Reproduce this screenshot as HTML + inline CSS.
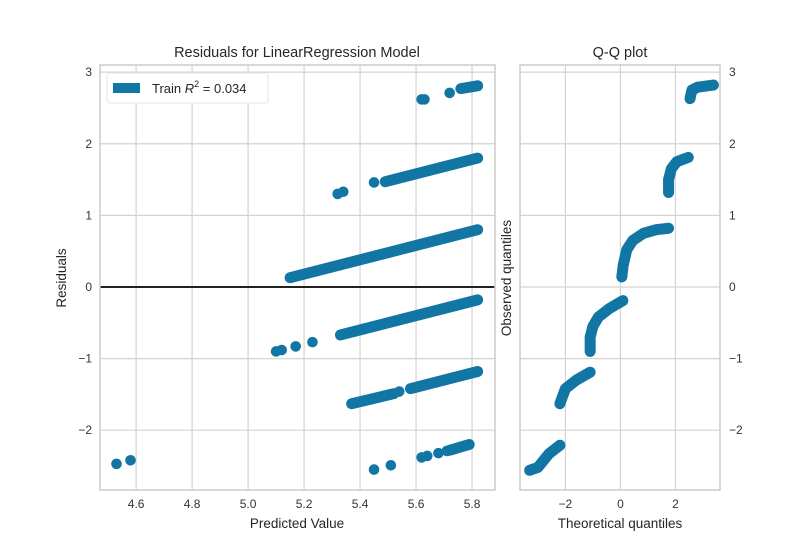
<!DOCTYPE html>
<html><head><meta charset="utf-8"><style>
body{margin:0;background:#fff;}
svg{display:block;font-family:"Liberation Sans",sans-serif;}
</style></head><body>
<svg id="chart" width="800" height="550"></svg>
<script>
// ---- main residual plot data ----
const xTicks = [4.6, 4.8, 5.0, 5.2, 5.4, 5.6, 5.8];
const xTickLabels = ["4.6", "4.8", "5.0", "5.2", "5.4", "5.6", "5.8"];
const yTicks = [-2, -1, 0, 1, 2, 3];
const yTickLabels = ["\u22122", "\u22121", "0", "1", "2", "3"];
// dense runs of points: [predStart, residStart, predEnd, residEnd]
const denseRuns = [
  [5.15, 0.13, 5.82, 0.80],
  [5.49, 1.47, 5.82, 1.80],
  [5.76, 2.77, 5.82, 2.81],
  [5.33, -0.67, 5.82, -0.18],
  [5.37, -1.63, 5.52, -1.49],
  [5.58, -1.42, 5.82, -1.18],
  [5.72, -2.28, 5.79, -2.20]
];
// isolated points
const isoPred  = [5.32, 5.34, 5.45, 5.62, 5.63, 5.72, 5.10, 5.12, 5.17, 5.23, 4.53, 4.58, 5.54, 5.45, 5.51, 5.62, 5.64, 5.68, 5.71];
const isoResid = [1.30, 1.33, 1.46, 2.62, 2.62, 2.71, -0.90, -0.88, -0.83, -0.77, -2.47, -2.42, -1.46, -2.55, -2.49, -2.38, -2.36, -2.32, -2.29];
// ---- Q-Q data (curve segments) ----
const qqTheo = [[-3.3, -3.0, -2.6, -2.2], [-2.2, -2.0, -1.6, -1.1], [-1.1, -1.1, -1.0, -0.8, -0.4, 0.09], [0.05, 0.1, 0.23, 0.45, 0.84, 1.3, 1.75], [1.75, 1.75, 1.85, 2.05, 2.47], [2.53, 2.6, 2.8, 3.38]];
const qqObs  = [[-2.56, -2.52, -2.33, -2.21], [-1.63, -1.42, -1.30, -1.19], [-0.90, -0.70, -0.55, -0.42, -0.30, -0.19], [0.14, 0.30, 0.52, 0.65, 0.75, 0.80, 0.82], [1.32, 1.50, 1.65, 1.75, 1.81], [2.63, 2.75, 2.79, 2.82]];
const qqXTicks = [-2, 0, 2];
const qqXTickLabels = ["\u22122", "0", "2"];

const NS = "http://www.w3.org/2000/svg";
const svg = document.getElementById("chart");
const C = "#1276a5";
function el(tag, attrs, parent, text) {
  const e = document.createElementNS(NS, tag);
  for (const k in attrs) e.setAttribute(k, attrs[k]);
  if (text !== undefined) e.textContent = text;
  (parent || svg).appendChild(e);
  return e;
}
const L = 100, R = 495, T = 65, B = 490;
const xMin = 4.471, xMax = 5.882, yMin = -2.835, yMax = 3.1;
const sx = v => L + (v - xMin) / (xMax - xMin) * (R - L);
const sy = v => B - (v - yMin) / (yMax - yMin) * (B - T);
const QL = 520, QR = 720, qxMin = -3.65, qxMax = 3.62;
const qx = v => QL + (v - qxMin) / (qxMax - qxMin) * (QR - QL);

xTicks.forEach((t, i) => {
  const g = el("line", {x1: sx(t), x2: sx(t), y1: T, y2: B, stroke: "#d3d3d3", "stroke-width": 1.2});
  
  
  const lab = el("text", {x: sx(t), y: B + 18, "text-anchor": "middle", "font-size": 12, fill: "#333"}, null, xTickLabels[i]);
  
  
});
yTicks.forEach((t, i) => {
  const g = el("line", {x1: L, x2: R, y1: sy(t), y2: sy(t), stroke: "#d3d3d3", "stroke-width": 1.2});
  
  
  const g2 = el("line", {x1: QL, x2: QR, y1: sy(t), y2: sy(t), stroke: "#d3d3d3", "stroke-width": 1.2});
  
  
  const lab = el("text", {x: L - 8, y: sy(t) + 4, "text-anchor": "end", "font-size": 12, fill: "#333"}, null, yTickLabels[i]);
  
  
  const lab2 = el("text", {x: QR + 9, y: sy(t) + 4, "text-anchor": "start", "font-size": 12, fill: "#333"}, null, yTickLabels[i]);
  
  
});
qqXTicks.forEach((t, i) => {
  const g = el("line", {x1: qx(t), x2: qx(t), y1: T, y2: B, stroke: "#d3d3d3", "stroke-width": 1.2});
  
  
  const lab = el("text", {x: qx(t), y: B + 18, "text-anchor": "middle", "font-size": 12, fill: "#333"}, null, qqXTickLabels[i]);
  
  
});

const zl = el("line", {x1: L, x2: R, y1: sy(0), y2: sy(0), stroke: "#222", "stroke-width": 2});



denseRuns.forEach(r => {
  const ln = el("line", {x1: sx(r[0]), y1: sy(r[1]), x2: sx(r[2]), y2: sy(r[3]), stroke: C, "stroke-width": 11, "stroke-linecap": "round"});
  
  
});
isoPred.forEach((p, i) => {
  const c = el("circle", {cx: sx(p), cy: sy(isoResid[i]), r: 5.3, fill: C});
  
  
});

qqTheo.forEach((seg, s) => {
  const pts = seg.map((t, i) => qx(t) + "," + sy(qqObs[s][i])).join(" ");
  const pl = el("polyline", {points: pts, fill: "none", stroke: C, "stroke-width": 11, "stroke-linecap": "round", "stroke-linejoin": "round"});
  
  
});

const f1 = el("rect", {x: L, y: T, width: R - L, height: B - T, fill: "none", stroke: "#cccccc", "stroke-width": 1.5});


const f2 = el("rect", {x: QL, y: T, width: QR - QL, height: B - T, fill: "none", stroke: "#cccccc", "stroke-width": 1.5});



const lg = el("g", {});


el("rect", {x: 107, y: 73, width: 161, height: 30, rx: 3, fill: "#fff", stroke: "#e6e6e6", "stroke-width": 1}, lg);
el("rect", {x: 113, y: 83, width: 27, height: 10, fill: C}, lg);
const lt = el("text", {x: 152, y: 93, "font-size": 13, fill: "#262626"}, lg);


el("tspan", {}, lt, "Train ");
el("tspan", {"font-style": "italic"}, lt, "R");
el("tspan", {dy: -6, "font-size": 9}, lt, "2");
el("tspan", {dy: 6}, lt, " = 0.034");

function label(txt, attrs, name) {
  const t = el("text", Object.assign({"text-anchor": "middle", fill: "#262626"}, attrs), null, txt);
  
  
}
label("Residuals for LinearRegression Model", {x: 297, y: 57, "font-size": 14.5}, "main-title");
label("Q-Q plot", {x: 620, y: 57, "font-size": 14.5}, "qq-title");
label("Predicted Value", {x: 297, y: 528, "font-size": 13.5}, "x-axis-title");
label("Theoretical quantiles", {x: 620, y: 528, "font-size": 13.5}, "qq-x-axis-title");
label("Residuals", {x: 0, y: 0, "font-size": 13.5, transform: "translate(66,278) rotate(-90)"}, "y-axis-title");
label("Observed quantiles", {x: 0, y: 0, "font-size": 13.5, transform: "translate(511,278) rotate(-90)"}, "qq-y-axis-title");
</script>
</body></html>
